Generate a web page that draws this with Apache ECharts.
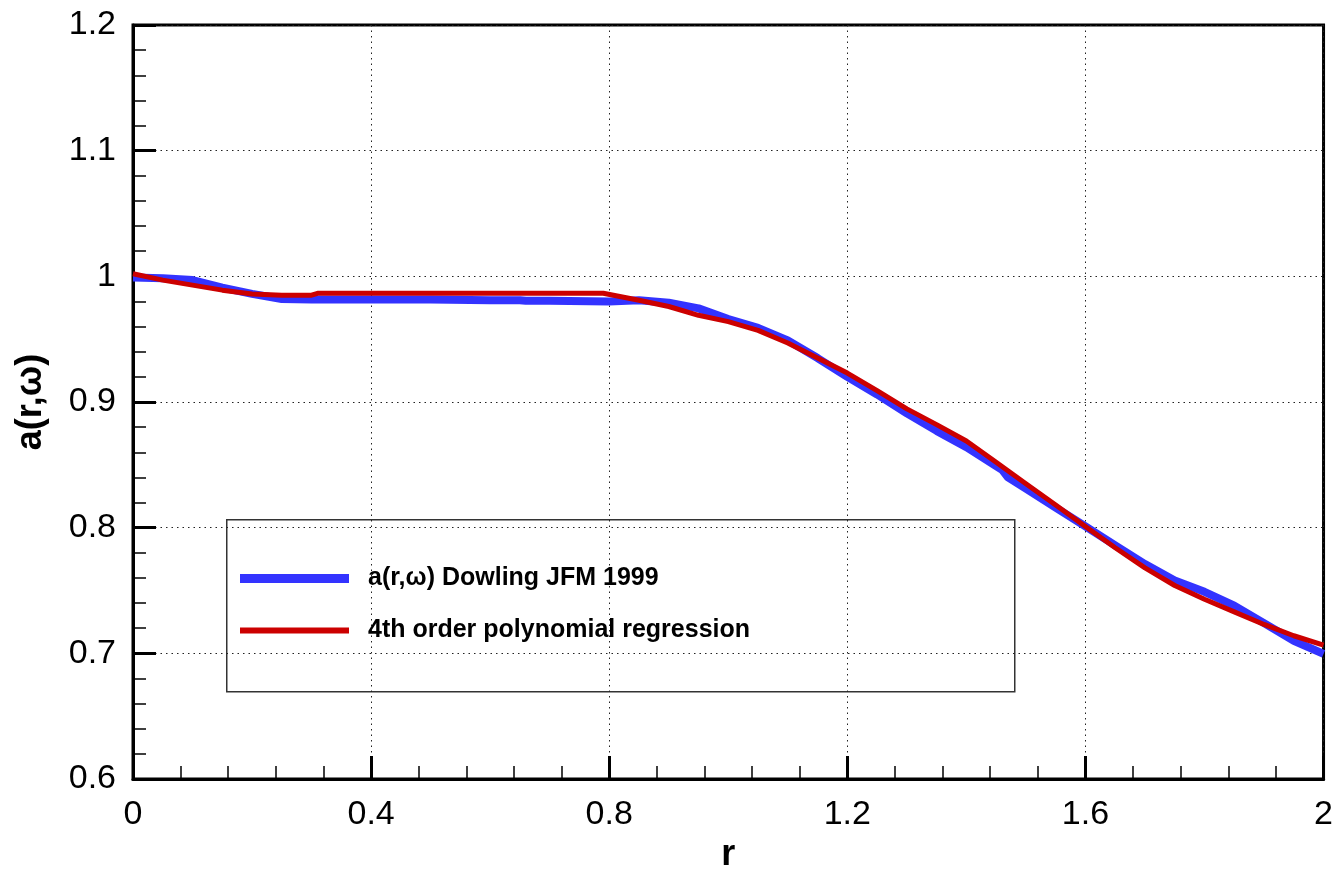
<!DOCTYPE html>
<html>
<head>
<meta charset="utf-8">
<script src="https://cdn.jsdelivr.net/npm/echarts@6/dist/echarts.min.js"></script>
<style>
  html, body { margin: 0; padding: 0; background: #fff; }
  #chart { width: 1336px; height: 886px; }
</style>
</head>
<body>
<div id="chart"></div>
<script>
// ---- data ----
const seriesNames = ['a(r,\u03c9) Dowling JFM 1999', '4th order polynomial regression'];

const rDowling = [0, 0.05, 0.1, 0.15, 0.2, 0.25, 0.3, 0.4, 0.5, 0.6, 0.65, 0.66, 0.7, 0.8, 0.85, 0.9, 0.95, 1.0, 1.05, 1.1, 1.15, 1.2, 1.25, 1.3, 1.35, 1.4, 1.45, 1.46, 1.47, 1.5, 1.55, 1.6, 1.65, 1.7, 1.75, 1.8, 1.85, 1.9, 1.95, 2.0];
const aDowling = [0.999, 0.9985, 0.997, 0.991, 0.986, 0.982, 0.9815, 0.9815, 0.9815, 0.981, 0.981, 0.9805, 0.9805, 0.980, 0.981, 0.979, 0.9745, 0.966, 0.959, 0.949, 0.935, 0.920, 0.906, 0.891, 0.877, 0.864, 0.849, 0.846, 0.840, 0.831, 0.816, 0.801, 0.786, 0.771, 0.758, 0.749, 0.738, 0.724, 0.710, 0.6995];

const rPoly = [0, 0.05, 0.1, 0.15, 0.2, 0.25, 0.3, 0.31, 0.4, 0.5, 0.6, 0.7, 0.79, 0.85, 0.9, 0.95, 1.0, 1.05, 1.1, 1.15, 1.2, 1.25, 1.3, 1.35, 1.4, 1.45, 1.5, 1.55, 1.6, 1.65, 1.7, 1.75, 1.8, 1.85, 1.9, 1.95, 2.0];
const aPoly = [1.002, 0.997, 0.993, 0.989, 0.986, 0.985, 0.985, 0.9865, 0.9865, 0.9865, 0.9865, 0.9865, 0.9865, 0.981, 0.976, 0.969, 0.964, 0.957, 0.947, 0.935, 0.923, 0.909, 0.8945, 0.882, 0.869, 0.852, 0.835, 0.818, 0.801, 0.784, 0.768, 0.754, 0.743, 0.733, 0.723, 0.714, 0.7066];

const xTitle = 'r';
const yTitle = 'a(r,\u03c9)';

// ---- chart ----
const chart = echarts.init(document.getElementById('chart'), null, { renderer: 'canvas' });
const font = '"Liberation Sans", Arial, Helvetica, sans-serif';

const pairs = (xs, ys) => xs.map((x, i) => [x, ys[i]]);

const legendCommon = {
  left: 240, orient: 'vertical', icon: 'rect', itemWidth: 109, padding: 0,
  selectedMode: false,
  formatter: n => '{p|}' + n,
  textStyle: { fontFamily: font, fontWeight: 'bold', fontSize: 25, color: '#000',
               rich: { p: { width: 14 } } }
};

chart.setOption({
  backgroundColor: '#fff',
  animation: false,
  grid: { left: 133, right: 8, top: 25, bottom: 107, show: true, borderColor: '#000', borderWidth: 3, backgroundColor: 'transparent' },
  xAxis: {
    type: 'value', min: 0, max: 2, interval: 0.4,
    name: xTitle, nameLocation: 'middle', nameGap: 58,
    nameTextStyle: { fontFamily: font, fontWeight: 'bold', fontSize: 36, color: '#000' },
    axisLine: { show: true, lineStyle: { color: '#000', width: 3 } },
    axisTick: { show: true, inside: true, length: 23, lineStyle: { color: '#000', width: 3 } },
    minorTick: { show: true, splitNumber: 5, length: 13, lineStyle: { color: '#000', width: 1.5 } },
    axisLabel: { fontFamily: font, fontSize: 34, color: '#000', margin: 19 },
    splitLine: { show: true, lineStyle: { color: '#222', width: 1, type: [1.5, 4] } }
  },
  yAxis: {
    type: 'value', min: 0.6, max: 1.2, interval: 0.1,
    name: yTitle, nameLocation: 'middle', nameGap: 84, nameRotate: 90,
    nameTextStyle: { fontFamily: font, fontWeight: 'bold', fontSize: 36, color: '#000' },
    axisLine: { show: true, lineStyle: { color: '#000', width: 3 } },
    axisTick: { show: true, inside: true, length: 23, lineStyle: { color: '#000', width: 3 } },
    minorTick: { show: true, splitNumber: 5, length: 13, lineStyle: { color: '#000', width: 1.5 } },
    axisLabel: { fontFamily: font, fontSize: 34, color: '#000', margin: 17,
                 formatter: v => String(Math.round(v * 10) / 10) },
    splitLine: { show: true, lineStyle: { color: '#222', width: 1, type: [1.5, 4] } }
  },
  legend: [
    Object.assign({}, legendCommon, { top: 566, itemHeight: 9, data: [seriesNames[0]] }),
    Object.assign({}, legendCommon, { top: 618, itemHeight: 6, data: [seriesNames[1]] })
  ],
  graphic: [{
    type: 'rect', left: 226, top: 519, z: 0,
    shape: { width: 788, height: 172 },
    style: { fill: '#fff', stroke: '#333', lineWidth: 1.5 }
  }],
  series: [
    { name: seriesNames[0], type: 'line', data: pairs(rDowling, aDowling), showSymbol: false, symbol: 'none',
      lineStyle: { color: '#3333ff', width: 8 }, itemStyle: { color: '#3333ff' }, z: 2 },
    { name: seriesNames[1], type: 'line', data: pairs(rPoly, aPoly), showSymbol: false, symbol: 'none',
      lineStyle: { color: '#cc0000', width: 5 }, itemStyle: { color: '#cc0000' }, z: 3 }
  ]
});
</script>
</body>
</html>
